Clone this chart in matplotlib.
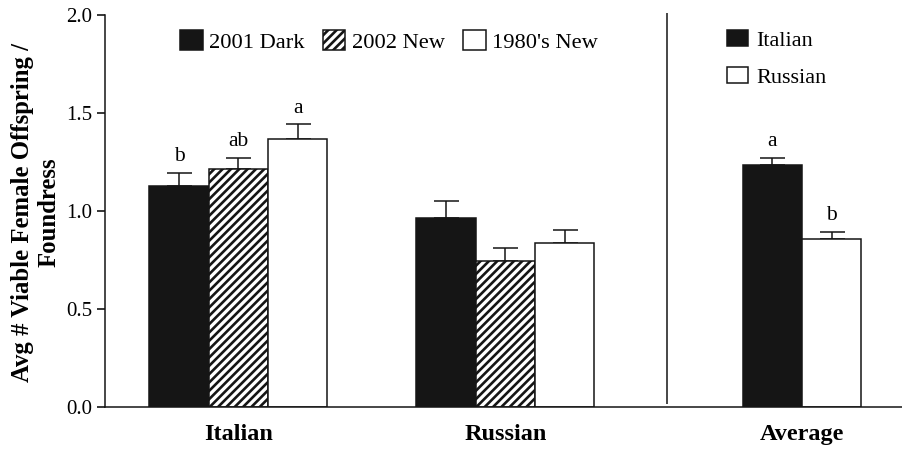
import matplotlib
matplotlib.use('Agg')
import matplotlib.pyplot as plt
import numpy as np

# strain groups and collection series
groups = ['Italian', 'Russian']
series = ['2001 Dark', '2002 New', "1980's New"]
means = [
  [1.13, 0.965],   # 2001 Dark
  [1.215, 0.745],  # 2002 New
  [1.365, 0.835],  # 1980's New
]
errs = [
  [0.065, 0.085],
  [0.055, 0.067],
  [0.077, 0.066],
]
letters = [['b', ''], ['ab', ''], ['a', '']]

avg_labels = ['Italian', 'Russian']
avg_means = [1.235, 0.855]
avg_errs = [0.037, 0.037]
avg_letters = ['a', 'b']

plt.rcParams['font.family'] = ['Liberation Serif', 'DejaVu Serif']
plt.rcParams['hatch.linewidth'] = 1.9
plt.rcParams['hatch.color'] = '#151515'

DARK = '#151515'
fig = plt.figure(figsize=(9.03, 4.49), dpi=100)
ax = fig.add_axes([105 / 903, 42 / 449, 798 / 903, 392 / 449])

group_x = np.array([2.25, 6.75])
avg_x = 11.75
width = 1.0
styles = [
  dict(color=DARK, edgecolor=DARK),
  dict(color='white', edgecolor=DARK, hatch='////'),
  dict(color='white', edgecolor=DARK),
]


def add_bars(x, vals, err, lets, style, label):
  bars = ax.bar(x, vals, width, linewidth=1.1, label=label, zorder=2, **style)
  ax.errorbar(x, vals, yerr=[np.zeros(len(vals)), err], fmt='none',
              ecolor=DARK, elinewidth=1.1, capsize=9, capthick=1.1, zorder=1)
  for xi, v, e, t in zip(np.atleast_1d(x), np.atleast_1d(vals), np.atleast_1d(err), lets):
    if t:
      ax.annotate(t, (xi, v + e), xytext=(0, 8.5), textcoords='offset points',
                  ha='center', va='baseline', fontsize=15.5)
  return bars


handles = []
for i, name in enumerate(series):
  handles.append(add_bars(group_x + (i - 1) * width, means[i], errs[i], letters[i], styles[i], name))

avg_handles = []
for i, name in enumerate(avg_labels):
  st = styles[0] if i == 0 else styles[2]
  avg_handles.append(add_bars([avg_x + (i - 0.5) * width], [avg_means[i]], [avg_errs[i]],
                              [avg_letters[i]], st, name))

# divider between the per-group bars and the overall average
ax.vlines(9.47, 0.015, 2.012, color=DARK, linewidth=1.1, clip_on=False)

ax.set_xlim(0, 13.45)
ax.set_ylim(0, 2.0)
ax.set_yticks([0, 0.5, 1.0, 1.5, 2.0])
ax.set_yticklabels(['0.0', '0.5', '1.0', '1.5', '2.0'], fontsize=15)
ax.set_xticks(list(group_x) + [avg_x])
ax.set_xticklabels(groups + ['Average'], fontsize=17.5, fontweight='bold')
ax.tick_params(axis='x', length=0, pad=12)
ax.tick_params(axis='y', direction='out', length=6, width=1.1, pad=3)
for side in ['top', 'right']:
  ax.spines[side].set_visible(False)
for side in ['left', 'bottom']:
  ax.spines[side].set_linewidth(1.1)
  ax.spines[side].set_color(DARK)

fig.text(36 / 903, 1 - 212 / 449, 'Avg # Viable Female Offspring /\nFoundress',
         rotation=90, ha='center', va='center', multialignment='center',
         fontsize=17.8, fontweight='bold')

leg1 = ax.legend(handles=handles, ncol=3, loc='upper left', bbox_to_anchor=(0.094, 0.962),
                 frameon=False, fontsize=16.2, handlelength=1.0, handleheight=1.0,
                 handletextpad=0.3, columnspacing=0.8, borderpad=0, borderaxespad=0)
ax.add_artist(leg1)
ax.legend(handles=avg_handles, loc='upper left', bbox_to_anchor=(0.779, 0.962),
          frameon=False, fontsize=16, handlelength=0.95, handleheight=0.75,
          handletextpad=0.4, labelspacing=0.72, borderpad=0, borderaxespad=0)

fig.savefig('out.png', dpi=100)
